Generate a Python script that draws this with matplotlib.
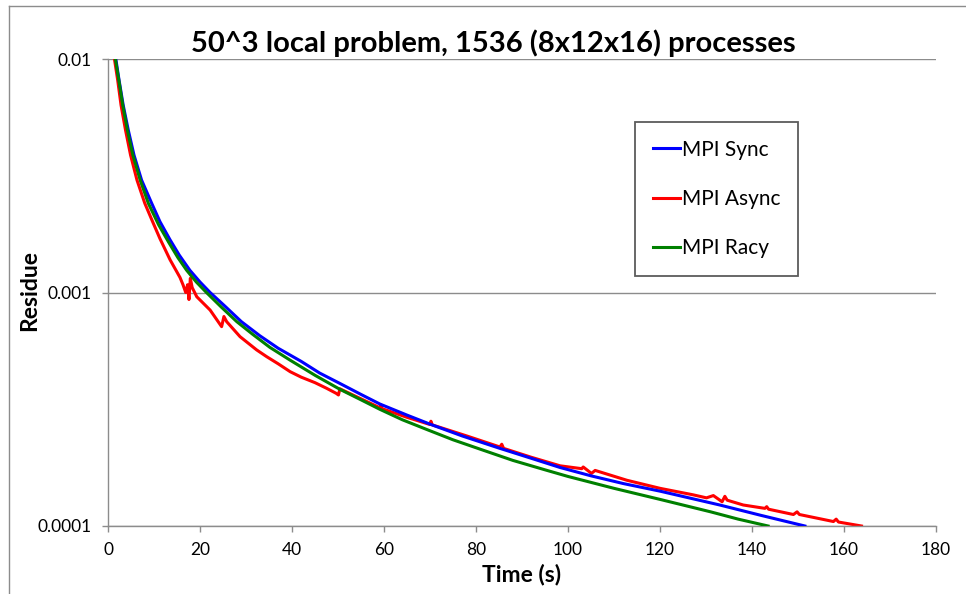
import matplotlib
matplotlib.use("Agg")
import matplotlib.pyplot as plt
from matplotlib.lines import Line2D

# ---- data ----
sync_t = [1.7, 2.4, 3.3, 4.4, 5.65, 7.3, 9.5, 11.3, 13.5, 15.5, 17.8, 20.0, 22.2, 25.5,
          29, 33, 37, 42, 46, 50.4, 55, 59.1, 65, 70, 77, 85.2, 92, 98.3, 105, 112, 120,
          127, 133, 142, 151.5]
sync_r = [1.00e-2, 8.13e-3, 6.35e-3, 4.97e-3, 3.88e-3, 3.03e-3, 2.41e-3, 2.01e-3, 1.68e-3,
          1.445e-3, 1.245e-3, 1.109e-3, 1.00e-3, 8.71e-4, 7.50e-4, 6.53e-4, 5.77e-4, 5.07e-4,
          4.52e-4, 4.08e-4, 3.66e-4, 3.33e-4, 2.985e-4, 2.73e-4, 2.43e-4, 2.15e-4, 1.95e-4,
          1.78e-4, 1.64e-4, 1.52e-4, 1.41e-4, 1.31e-4, 1.23e-4, 1.11e-4, 1.00e-4]

racy_t = [1.6, 2.35, 3.2, 4.2, 5.4, 7.0, 8.77, 11.0, 13.2, 15.2, 17.1, 19.2, 21.4, 24.5,
          28, 31.5, 35.2, 39.6, 45, 50.4, 55, 59.1, 64, 69.3, 75, 81, 88, 95, 100, 110,
          120, 131, 137, 143.5]
racy_r = [1.00e-2, 8.13e-3, 6.35e-3, 4.97e-3, 3.88e-3, 3.03e-3, 2.41e-3, 1.95e-3, 1.64e-3,
          1.41e-3, 1.245e-3, 1.109e-3, 1.00e-3, 8.71e-4, 7.50e-4, 6.61e-4, 5.82e-4, 5.13e-4,
          4.42e-4, 3.85e-4, 3.47e-4, 3.16e-4, 2.85e-4, 2.59e-4, 2.34e-4, 2.13e-4, 1.91e-4,
          1.74e-4, 1.63e-4, 1.45e-4, 1.30e-4, 1.15e-4, 1.07e-4, 1.00e-4]

async_t = [1.4, 2.1, 2.83, 3.8, 4.9, 6.3, 8.0, 9.7, 11.3, 13.5, 15.65, 16.3, 16.9, 17.3,
           17.6, 17.9, 18.3, 19.3, 22.2, 24.7, 25.2, 25.8, 28.7, 32.3, 34.5, 37, 39.6, 42,
           45, 47.5, 49.6, 50.1, 50.4, 54, 59.1, 59.3, 59.6, 65, 70, 70.2, 70.5, 78, 85.2,
           85.6, 86, 92, 98.3, 103.0, 103.3, 105.1, 105.9, 112.8, 120, 127.2, 130.1, 131.6,
           133.5, 134.1, 134.6, 138.1, 142.8, 143.2, 143.6, 149, 149.8, 150.3, 157.7, 158.3,
           158.8, 163.8]
async_r = [1.00e-2, 8.13e-3, 6.35e-3, 4.97e-3, 3.88e-3, 3.03e-3, 2.41e-3, 2.01e-3, 1.70e-3,
           1.38e-3, 1.16e-3, 1.08e-3, 1.00e-3, 1.08e-3, 9.33e-4, 1.15e-3, 1.05e-3, 9.59e-4,
           8.41e-4, 7.14e-4, 7.89e-4, 7.50e-4, 6.47e-4, 5.68e-4, 5.31e-4, 4.95e-4, 4.58e-4,
           4.34e-4, 4.11e-4, 3.89e-4, 3.70e-4, 3.64e-4, 3.87e-4, 3.58e-4, 3.21e-4, 3.30e-4,
           3.18e-4, 2.92e-4, 2.72e-4, 2.81e-4, 2.71e-4, 2.43e-4, 2.18e-4, 2.24e-4, 2.15e-4,
           1.97e-4, 1.81e-4, 1.76e-4, 1.79e-4, 1.68e-4, 1.73e-4, 1.57e-4, 1.45e-4, 1.36e-4,
           1.32e-4, 1.35e-4, 1.27e-4, 1.34e-4, 1.29e-4, 1.23e-4, 1.19e-4, 1.21e-4, 1.18e-4,
           1.12e-4, 1.15e-4, 1.12e-4, 1.045e-4, 1.07e-4, 1.04e-4, 1.00e-4]

x_ticks = [0, 20, 40, 60, 80, 100, 120, 140, 160, 180]
y_ticks = [1e-4, 1e-3, 1e-2]
y_tick_labels = ["0.0001", "0.001", "0.01"]
series_names = ["MPI Sync", "MPI Async", "MPI Racy"]

title_text = "50^3 local problem, 1536 (8x12x16) processes"
xlabel_text = "Time (s)"
ylabel_text = "Residue"

# ---- figure ----
plt.rcParams["font.family"] = ["Lato", "DejaVu Sans"]
W, H = 966, 594
fig = plt.figure(figsize=(W / 100, H / 100), dpi=100)
fig.patch.set_facecolor("white")

ax = fig.add_axes([108 / W, 1 - 526 / H, (936 - 108) / W, (526 - 59) / H])
gray = "#8c8c8c"

lw = 2.2
ax.plot(sync_t, sync_r, color="#0000ff", lw=lw, label=series_names[0], zorder=3,
        solid_joinstyle="round")
ax.plot(async_t, async_r, color="#ff0000", lw=lw, label=series_names[1], zorder=2,
        solid_joinstyle="round")
ax.plot(racy_t, racy_r, color="#008000", lw=lw, label=series_names[2], zorder=4,
        solid_joinstyle="round")

ax.set_yscale("log")
ax.set_xlim(0, 180)
ax.set_ylim(1e-4, 1e-2)
ax.set_xticks(x_ticks)
ax.set_xticklabels([str(v) for v in x_ticks])
ax.set_yticks(y_ticks)
ax.set_yticklabels(y_tick_labels)
ax.yaxis.set_minor_locator(matplotlib.ticker.NullLocator())

for s in ["top", "right"]:
    ax.spines[s].set_visible(False)
for s in ["left", "bottom"]:
    ax.spines[s].set_color(gray)
    ax.spines[s].set_linewidth(1.0)

ax.grid(axis="y", which="major", color=gray, lw=1.0)
ax.set_axisbelow(True)
ax.tick_params(axis="both", which="major", direction="out", length=4.5, width=1.0,
               color=gray, labelsize=12.5, labelcolor="black")
ax.tick_params(axis="y", pad=7.5)
ax.tick_params(axis="x", pad=7)

ax.set_xlabel(xlabel_text, fontsize=16.5, fontweight="bold", labelpad=4)
fig.text(30 / W, 1 - 291 / H, ylabel_text, rotation=90, ha="center", va="center",
         fontsize=16.5, fontweight="bold")

fig.text(493 / W, 1 - 43 / H, title_text, ha="center", va="center",
         fontsize=21, fontweight="bold")

leg = ax.legend(loc="upper left", bbox_to_anchor=((635 - 108) / 828, (526 - 122) / 467),
                frameon=True, fancybox=False, fontsize=15, handlelength=1.3,
                handletextpad=0.1, labelspacing=1.4, borderpad=0.85, borderaxespad=0)
leg.get_frame().set_edgecolor("#333333")
leg.get_frame().set_linewidth(1.3)

# outer chart border (left and top edges visible in the reference)
fig.add_artist(Line2D([9 / W, 9 / W], [0, 1 - 6 / H], color=gray, lw=1.0,
                      transform=fig.transFigure))
fig.add_artist(Line2D([9 / W, 1], [1 - 6 / H, 1 - 6 / H], color=gray, lw=1.0,
                      transform=fig.transFigure))

fig.savefig("out.png", dpi=100)
